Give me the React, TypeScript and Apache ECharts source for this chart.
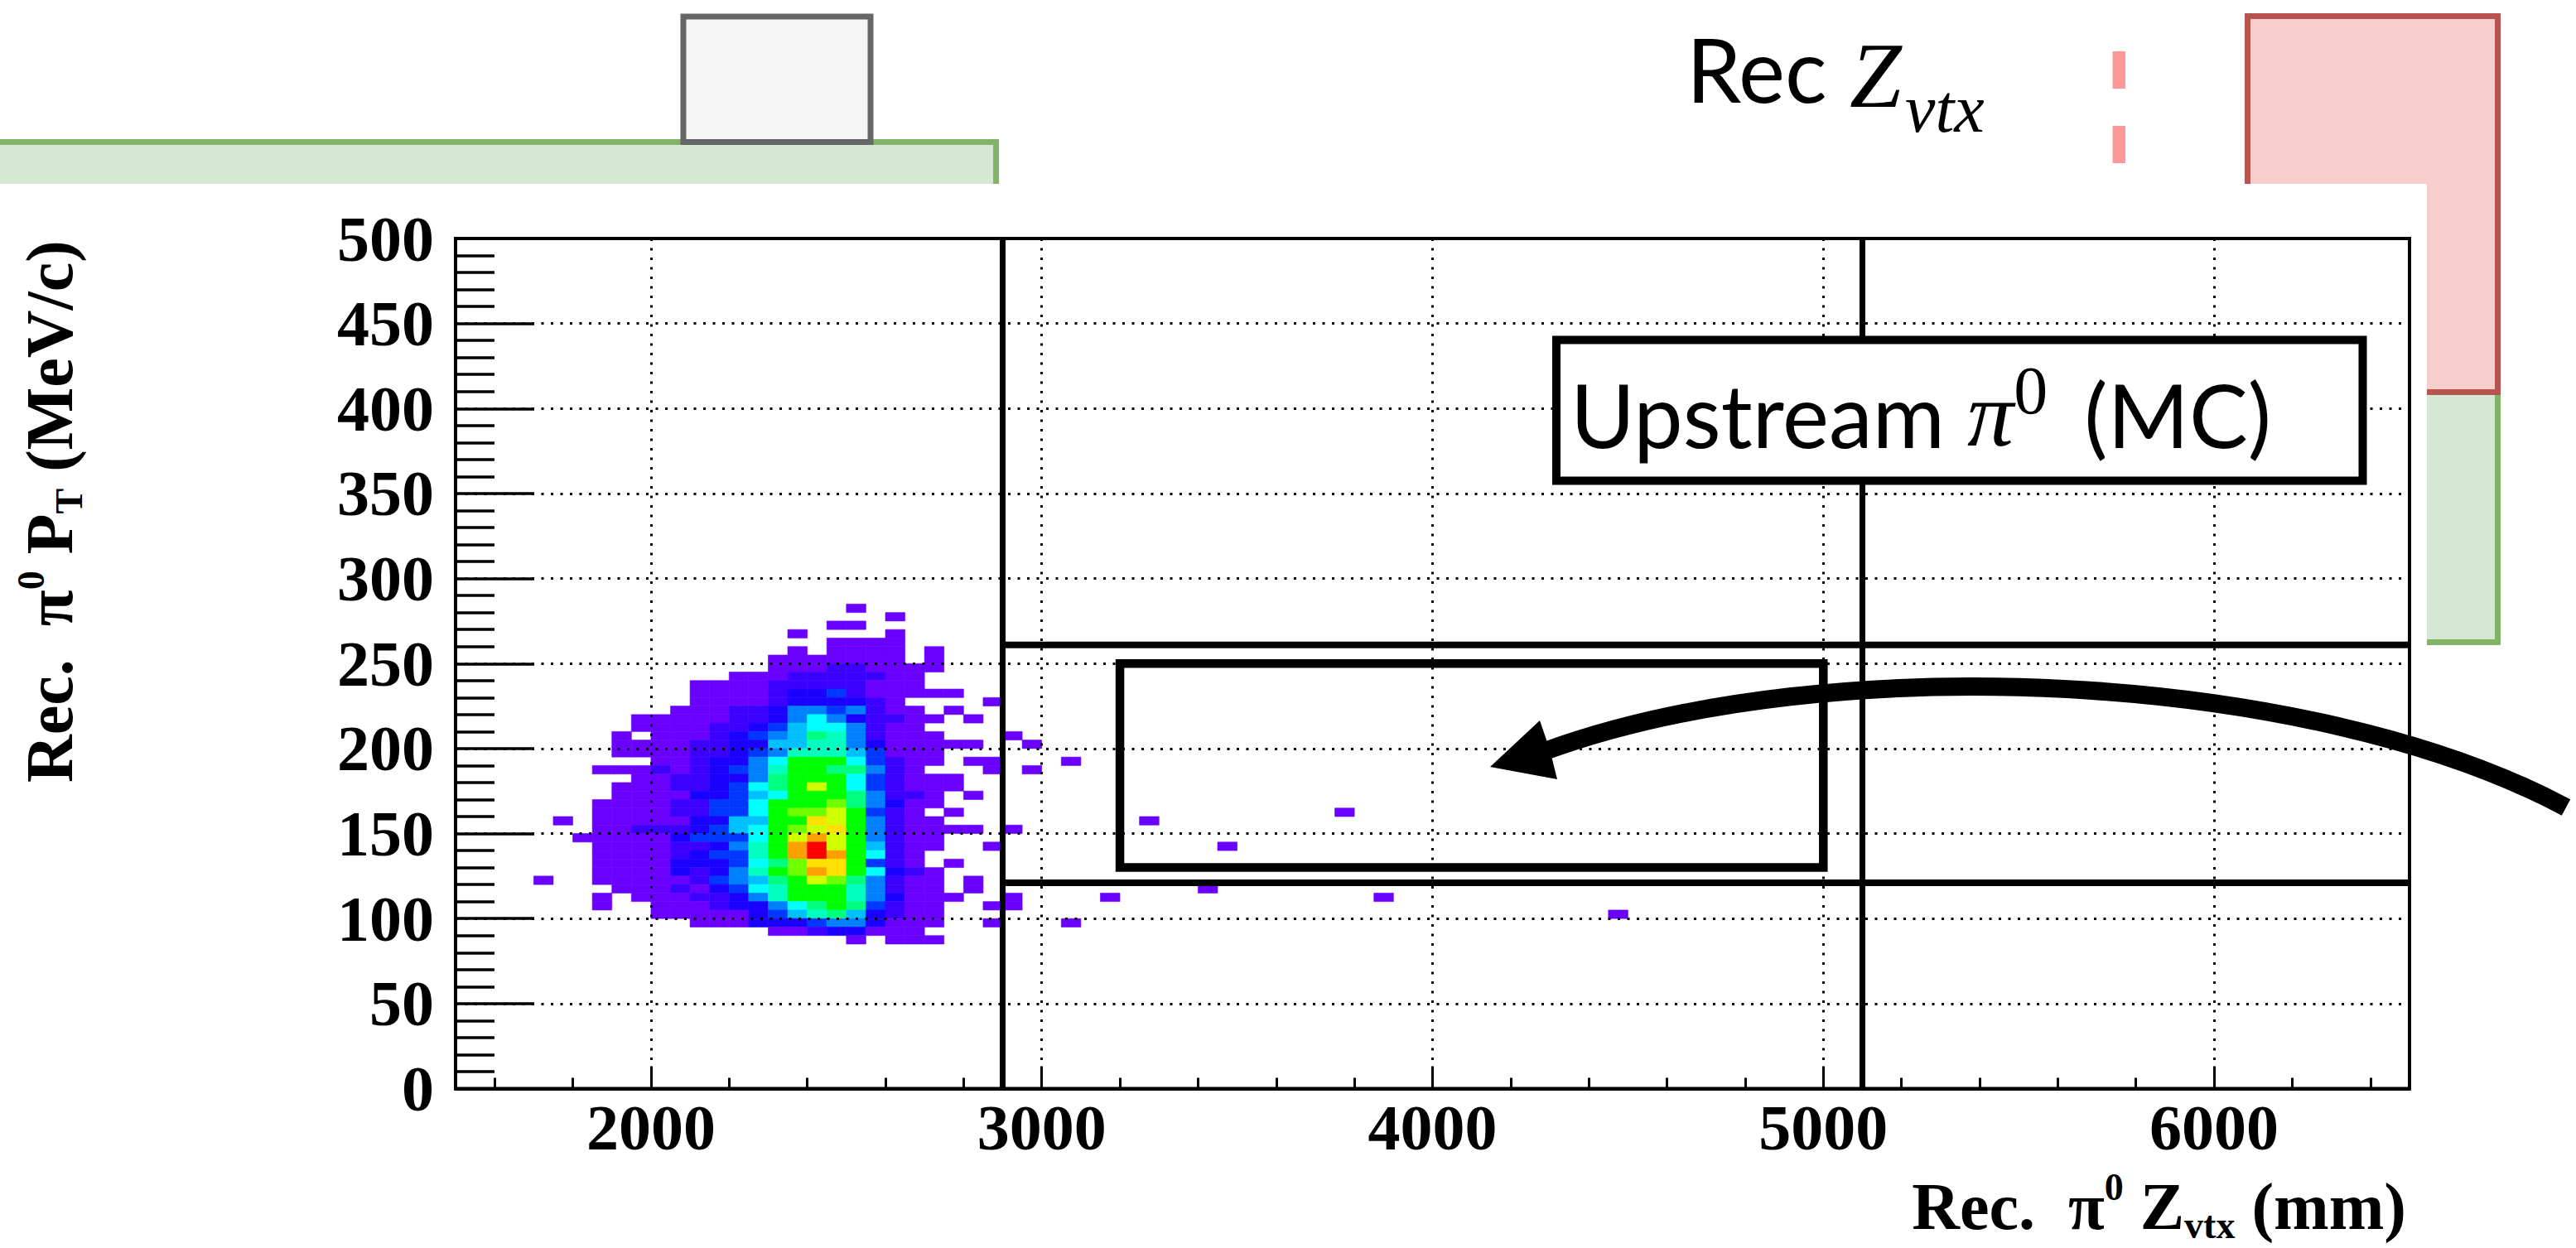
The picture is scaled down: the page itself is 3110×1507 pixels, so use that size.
import React, { useEffect, useRef } from "react";
import * as echarts from "echarts";

const zBinWidth = 50;
const pBinWidth = 5;
const zFirstEdge = 1700;
const pTopEdge = 280;
// Colour level per bin (0 = empty, hex digit 1..f), one string per pT row from the top, one char per Z column
const densityRows = [
  "................1.......",
  "..................1.....",
  "...............11.......",
  ".............1....1.....",
  "...............1111.....",
  ".............1.1111.1...",
  "............1111111.1...",
  "............111221111...",
  "..........1112222211....",
  "........111122222111....",
  "........11112334211111..",
  "........11112333321....1",
  ".......1112235545211.1..",
  ".....1111122357532211.1.",
  ".....111122346775211....",
  "....1.111234569852111...",
  "....1111223366885311111.",
  "....11112234588864111...",
  "......1123357aaa74211.11",
  "...1112123458aa99521...1",
  ".....11223359aaa742111..",
  "....111223479aca742111..",
  "....111133467aaa95221.1.",
  "...111122447aaab95311...",
  "...111122447abbca421.1..",
  ".1.111113366aadca5211...",
  "...112223467abcda521111.",
  "..1111134447aceca5211...",
  "...111122358aefca6211..1",
  "...111123448aefea721....",
  "...1111333479bdda421.1..",
  "...111132358abeda7321...",
  "1..1111124569acb95211.1.",
  "....111213478aaa85211.1.",
  "...1.11122358aaa853111..",
  "...1..111233579a94211..1",
  "......111113468963211...",
  "........1113334553111..1",
  "............11233111....",
  "................1.111...",
];
const strayZ = [2900, 2950, 3050, 2950, 2900, 3250, 3750, 3450, 2900, 2900, 3150, 3400, 3850, 4450, 3050];
const strayP = [205, 200, 190, 185, 150, 155, 160, 140, 105, 110, 110, 115, 110, 100, 95];

const palette = [
  "#6a00ff", "#3c00ff", "#1a00ff", "#0038ff", "#0080ff", "#00c0ff", "#00ffff", "#00ffc0",
  "#00ff80", "#00ff00", "#70ff00", "#d0ff00", "#ffe000", "#ffa000", "#ff0000",
];

const xMajorLabels = [2000, 3000, 4000, 5000, 6000];
const xMinorTicks = [1600, 1800, 2200, 2400, 2600, 2800, 3200, 3400, 3600, 3800, 4200, 4400, 4600, 4800, 5200, 5400, 5600, 5800, 6200, 6400];
const zCutLines = [2900, 5100];
const pCutLines = [121, 261];
const signalBox = [3200, 130, 5000, 250];

const cells: number[][] = [];
densityRows.forEach((row, r) => {
  for (let c = 0; c < row.length; c++) {
    if (row[c] !== ".") cells.push([zFirstEdge + c * zBinWidth, pTopEdge - r * pBinWidth, parseInt(row[c], 16)]);
  }
});
strayZ.forEach((z, i) => cells.push([z, strayP[i], 1]));

const SERIF = "Liberation Serif";
const titleRich = {
  b: { fontFamily: SERIF, fontWeight: "bold", fontSize: 80, lineHeight: 92, color: "#000" },
  sup: { fontFamily: SERIF, fontWeight: "bold", fontSize: 46, lineHeight: 92, verticalAlign: "top", color: "#000" },
  sub: { fontFamily: SERIF, fontWeight: "bold", fontSize: 46, lineHeight: 92, verticalAlign: "bottom", color: "#000" },
};

export default function App() {
  const ref = useRef<HTMLDivElement>(null);
  useEffect(() => {
    const chart = echarts.init(ref.current!, null, { renderer: "svg" });
    const cutLine = (data: number[][], width: number) => ({
      type: "line",
      data,
      symbol: "none",
      z: 5,
      silent: true,
      lineStyle: { color: "#000", width, cap: "butt" },
    });
    chart.setOption({
      animation: false,
      backgroundColor: "#fff",
      grid: { left: 550, right: 3110 - 2909, top: 288, bottom: 1507 - 1314.5, show: true, borderColor: "#000", borderWidth: 4, backgroundColor: "transparent", outerBoundsMode: "none", containLabel: false },
      xAxis: [
        {
          type: "value",
          min: 1500,
          max: 6500,
          interval: 500,
          z: 3,
          name: "{b|Rec.  π}{sup|0}{b| Z}{sub|vtx}{b| (mm)}",
          nameLocation: "end",
          nameGap: -4,
          nameTextStyle: { rich: titleRich, align: "right", verticalAlign: "top", padding: [96, 0, 0, 0] },
          axisLine: { show: true, onZero: false, lineStyle: { color: "#000", width: 4 } },
          axisTick: { show: true, inside: true, length: 27, customValues: xMajorLabels, lineStyle: { color: "#000", width: 3 } },
          axisLabel: { customValues: xMajorLabels, formatter: (v: number) => String(v), margin: 8, color: "#000", fontFamily: SERIF, fontWeight: "bold", fontSize: 78 },
          splitLine: { show: true, lineStyle: { color: "#000", width: 3, type: [3, 8.5] } },
        },
        {
          type: "value",
          min: 1500,
          max: 6500,
          interval: 500,
          position: "bottom",
          z: 3,
          axisLine: { show: false },
          axisTick: { show: true, inside: true, length: 13, customValues: xMinorTicks, lineStyle: { color: "#000", width: 3 } },
          axisLabel: { show: false },
          splitLine: { show: false },
        },
      ],
      yAxis: {
        type: "value",
        min: 0,
        max: 500,
        interval: 50,
        z: 3,
        name: "{b|Rec.  π}{sup|0}{b| P}{sub|T}{b| (MeV/c)}",
        nameLocation: "end",
        nameRotate: 90,
        nameGap: -2,
        nameTextStyle: { rich: titleRich, align: "right", verticalAlign: "bottom", padding: [0, 0, 444, 0] },
        axisLine: { show: true, onZero: false, lineStyle: { color: "#000", width: 4 } },
        axisTick: { show: true, inside: true, length: 95, lineStyle: { color: "#000", width: 3.5 } },
        minorTick: { show: true, splitNumber: 5, length: 47, lineStyle: { color: "#000", width: 3.5 } },
        axisLabel: { margin: 26, color: "#000", fontFamily: SERIF, fontWeight: "bold", fontSize: 78 },
        splitLine: { show: true, lineStyle: { color: "#000", width: 3, type: [3, 8.5] } },
      },
      series: [
        {
          type: "custom",
          z: 2,
          silent: true,
          data: cells,
          encode: { x: 0, y: 1 },
          renderItem: (_p: any, api: any) => {
            const a = api.coord([api.value(0), api.value(1) + pBinWidth]);
            const b = api.coord([api.value(0) + zBinWidth, api.value(1)]);
            const color = palette[api.value(2) - 1];
            return {
              type: "rect",
              shape: { x: a[0], y: a[1], width: b[0] - a[0], height: b[1] - a[1] },
              style: { fill: color, stroke: color, lineWidth: 0.6 },
            };
          },
        },
        ...zCutLines.map((z) => cutLine([[z, 0], [z, 500]], 7)),
        ...pCutLines.map((p) => cutLine([[zCutLines[0], p], [6500, p]], 8)),
        {
          type: "custom",
          z: 6,
          silent: true,
          data: [signalBox],
          encode: { x: [0, 2], y: [1, 3] },
          renderItem: (_p: any, api: any) => {
            const a = api.coord([api.value(0), api.value(3)]);
            const b = api.coord([api.value(2), api.value(1)]);
            return {
              type: "rect",
              shape: { x: a[0], y: a[1], width: b[0] - a[0], height: b[1] - a[1] },
              style: { fill: "none", stroke: "#000", lineWidth: 10.5, lineJoin: "miter" },
            };
          },
        },
      ],
      graphic: [
        { type: "rect", z: -3, shape: { x: 2713.5, y: 470, width: 302, height: 305.5 }, style: { fill: "#d5e8d4", stroke: "#82b366", lineWidth: 7 } },
        { type: "rect", z: -3, shape: { x: 2713.5, y: 19.5, width: 302, height: 454 }, style: { fill: "#f8cecc", stroke: "#b85450", lineWidth: 7 } },
        { type: "rect", z: -3, shape: { x: -20, y: 171.5, width: 1222.5, height: 120 }, style: { fill: "#d5e8d4", stroke: "#82b366", lineWidth: 7 } },
        { type: "rect", z: -3, shape: { x: 825, y: 20, width: 226, height: 151.5 }, style: { fill: "#f5f5f5", stroke: "#666666", lineWidth: 7 } },
        { type: "rect", z: -2, shape: { x: 0, y: 222, width: 2930, height: 1285 }, style: { fill: "#fff" } },
        { type: "rect", z: -2, shape: { x: 2550.5, y: 62, width: 15.5, height: 45 }, style: { fill: "#ff9999" } },
        { type: "rect", z: -2, shape: { x: 2550.5, y: 152, width: 15.5, height: 45 }, style: { fill: "#ff9999" } },
        { type: "text", z: 10, x: 2036, y: 30, style: { text: "Rec", fontFamily: "Lato", fontSize: 106, fill: "#000" } },
        { type: "text", z: 10, x: 2233, y: 34, style: { text: "Z", fontFamily: SERIF, fontStyle: "italic", fontSize: 113, fill: "#000" } },
        { type: "text", z: 10, x: 2300, y: 90, style: { text: "vtx", fontFamily: SERIF, fontStyle: "italic", fontSize: 82, fill: "#000" } },
        { type: "rect", z: 10, shape: { x: 1879, y: 410.5, width: 973.5, height: 170 }, style: { fill: "#fff", stroke: "#000", lineWidth: 10, lineJoin: "miter" } },
        {
          type: "text",
          z: 11,
          x: 1896,
          y: 500,
          style: {
            text: "{a|Upstream }{p|π}{s|0}{g| }{a|(MC)}",
            verticalAlign: "middle",
            rich: {
              a: { fontFamily: "Lato", fontSize: 106, lineHeight: 140, fill: "#000" },
              g: { fontFamily: "Lato", fontSize: 70, lineHeight: 140, width: 44, fill: "#000" },
              p: { fontFamily: SERIF, fontStyle: "italic", fontSize: 112, lineHeight: 140, fill: "#000" },
              s: { fontFamily: SERIF, fontSize: 82, lineHeight: 68, verticalAlign: "top", fill: "#000" },
            },
          },
        },
        {
          type: "bezierCurve",
          z: 12,
          shape: { x1: 1868, y1: 906, cpx1: 2210, cpy1: 782, cpx2: 2790, cpy2: 810, x2: 3098, y2: 975 },
          style: { fill: "none", stroke: "#000", lineWidth: 22 },
        },
        { type: "polygon", z: 12, shape: { points: [[1799, 926], [1859, 870], [1871, 905], [1880, 941]] }, style: { fill: "#000" } },
      ],
    });
    return () => chart.dispose();
  }, []);
  return <div ref={ref} style={{ position: "absolute", left: 0, top: 0, width: 3110, height: 1507 }} />;
}
